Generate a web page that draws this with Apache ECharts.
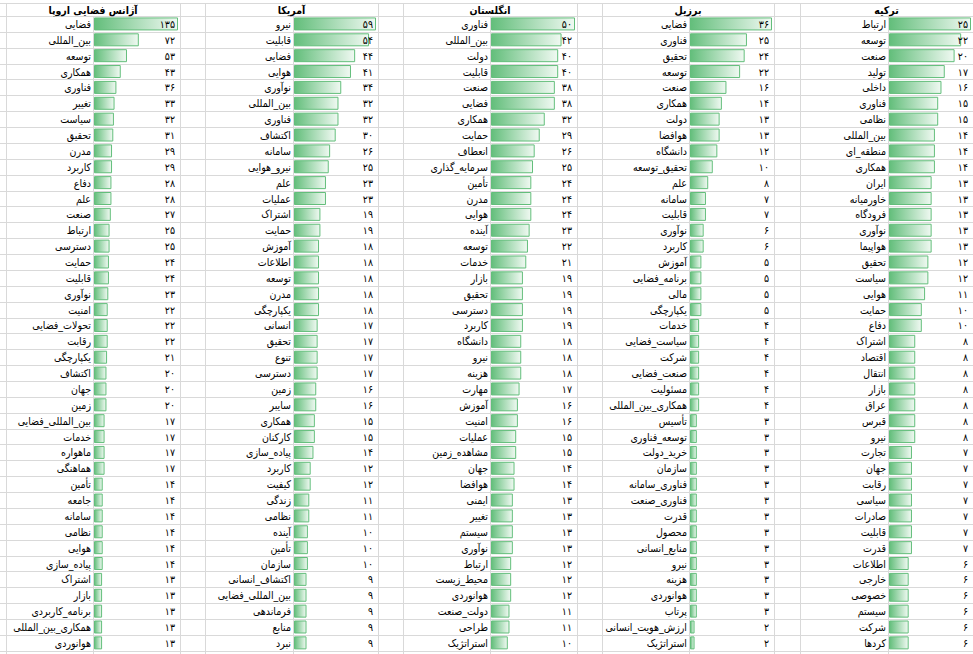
<!DOCTYPE html>
<html>
<head>
<meta charset="utf-8">
<script src="https://cdn.jsdelivr.net/npm/echarts@6/dist/echarts.min.js"></script>
<style>
  html, body { margin: 0; padding: 0; background: #fff; }
  #chart { width: 973px; height: 654px; }
</style>
</head>
<body>
<div id="chart"></div>
<script>
// panel headers, left to right
const titles = ['آژانس فضایی اروپا', 'آمریکا', 'انگلستان', 'برزیل', 'ترکیه'];

const esaTerms = ['فضایی', 'بین_المللی', 'توسعه', 'همکاری', 'فناوری', 'تغییر', 'سیاست', 'تحقیق', 'مدرن', 'کاربرد',
  'دفاع', 'علم', 'صنعت', 'ارتباط', 'دسترسی', 'حمایت', 'قابلیت', 'نوآوری', 'امنیت', 'تحولات_فضایی',
  'رقابت', 'یکپارچگی', 'اکتشاف', 'جهان', 'زمین', 'بین_المللی_فضایی', 'خدمات', 'ماهواره', 'هماهنگی', 'تأمین',
  'جامعه', 'سامانه', 'نظامی', 'هوایی', 'پیاده_سازی', 'اشتراک', 'بازار', 'برنامه_کاربردی', 'همکاری_بین_المللی', 'هوانوردی'];
const esaCounts = [135, 72, 53, 43, 36, 33, 32, 31, 29, 29, 28, 28, 27, 25, 25, 24, 24, 23, 22, 22,
  22, 21, 20, 20, 20, 17, 17, 17, 17, 14, 14, 14, 14, 14, 14, 13, 13, 13, 13, 13];

const usaTerms = ['نیرو', 'قابلیت', 'فضایی', 'هوایی', 'نوآوری', 'بین_المللی', 'فناوری', 'اکتشاف', 'سامانه', 'نیرو_هوایی',
  'علم', 'عملیات', 'اشتراک', 'حمایت', 'آموزش', 'اطلاعات', 'توسعه', 'مدرن', 'یکپارچگی', 'انسانی',
  'تحقیق', 'تنوع', 'دسترسی', 'زمین', 'سایبر', 'همکاری', 'کارکنان', 'پیاده_سازی', 'کاربرد', 'کیفیت',
  'زندگی', 'نظامی', 'آینده', 'تأمین', 'سازمان', 'اکتشاف_انسانی', 'بین_المللی_فضایی', 'فرماندهی', 'منابع', 'نبرد'];
const usaCounts = [59, 54, 44, 41, 34, 32, 32, 30, 26, 25, 23, 23, 19, 19, 18, 18, 18, 18, 18, 17,
  17, 17, 17, 16, 16, 15, 15, 14, 12, 12, 11, 11, 10, 10, 10, 9, 9, 9, 9, 9];

const ukTerms = ['فناوری', 'بین_المللی', 'دولت', 'قابلیت', 'صنعت', 'فضایی', 'همکاری', 'حمایت', 'انعطاف', 'سرمایه_گذاری',
  'تأمین', 'مدرن', 'هوایی', 'آینده', 'توسعه', 'خدمات', 'بازار', 'تحقیق', 'دسترسی', 'کاربرد',
  'دانشگاه', 'نیرو', 'هزینه', 'مهارت', 'آموزش', 'امنیت', 'عملیات', 'مشاهده_زمین', 'جهان', 'هوافضا',
  'ایمنی', 'تغییر', 'سیستم', 'نوآوری', 'ارتباط', 'محیط_زیست', 'هوانوردی', 'دولت_صنعت', 'طراحی', 'استراتژیک'];
const ukCounts = [50, 42, 40, 40, 38, 38, 32, 29, 26, 25, 24, 24, 24, 23, 22, 21, 19, 19, 19, 19,
  18, 18, 18, 17, 16, 16, 15, 15, 14, 14, 13, 13, 13, 13, 12, 12, 12, 11, 11, 10];

const brTerms = ['فضایی', 'فناوری', 'تحقیق', 'توسعه', 'صنعت', 'همکاری', 'دولت', 'هوافضا', 'دانشگاه', 'تحقیق_توسعه',
  'علم', 'سامانه', 'قابلیت', 'نوآوری', 'کاربرد', 'آموزش', 'برنامه_فضایی', 'مالی', 'یکپارچگی', 'خدمات',
  'سیاست_فضایی', 'شرکت', 'صنعت_فضایی', 'مسئولیت', 'همکاری_بین_المللی', 'تأسیس', 'توسعه_فناوری', 'خرید_دولت', 'سازمان', 'فناوری_سامانه',
  'فناوری_صنعت', 'قدرت', 'محصول', 'منابع_انسانی', 'نیرو', 'هزینه', 'هوانوردی', 'پرتاب', 'ارزش_هویت_انسانی', 'استراتژیک'];
const brCounts = [36, 25, 24, 22, 16, 14, 13, 13, 12, 10, 8, 7, 7, 6, 6, 5, 5, 5, 5, 4,
  4, 4, 4, 4, 4, 3, 3, 3, 3, 3, 3, 3, 3, 3, 3, 3, 3, 3, 2, 2];

const trTerms = ['ارتباط', 'توسعه', 'صنعت', 'تولید', 'داخلی', 'فناوری', 'نظامی', 'بین_المللی', 'منطقه_ای', 'همکاری',
  'ایران', 'خاورمیانه', 'فرودگاه', 'نوآوری', 'هواپیما', 'تحقیق', 'سیاست', 'هوایی', 'حمایت', 'دفاع',
  'اشتراک', 'اقتصاد', 'انتقال', 'بازار', 'عراق', 'قبرس', 'نیرو', 'تجارت', 'جهان', 'رقابت',
  'سیاسی', 'صادرات', 'قابلیت', 'قدرت', 'اطلاعات', 'خارجی', 'خصوصی', 'سیستم', 'شرکت', 'کردها'];
const trCounts = [25, 22, 20, 17, 16, 15, 15, 14, 14, 14, 13, 13, 13, 13, 13, 12, 12, 11, 10, 10,
  8, 8, 8, 8, 8, 8, 8, 7, 7, 7, 7, 7, 7, 7, 6, 6, 6, 6, 6, 6];

const panelTerms = [esaTerms, usaTerms, ukTerms, brTerms, trTerms];
const panelCounts = [esaCounts, usaCounts, ukCounts, brCounts, trCounts];

// sheet layout: left edge, label/bar split, right edge of each panel
const cols = [[6, 93, 180], [205, 293, 378], [403, 490, 577], [602, 689, 774], [800, 888, 973]];
const headTop = 2.5, rowTop = 16, rowH = 15.87, nRows = 40;
const W = 973, H = 654;
const font = '"DejaVu Sans Condensed", "DejaVu Sans", sans-serif';
const gridColor = '#d9d9d9';

const faDigits = v => String(v).replace(/\d/g, d => '۰۱۲۳۴۵۶۷۸۹'[d]);

const chart = echarts.init(document.getElementById('chart'), null, { renderer: 'svg' });

// sheet gridlines and panel headers
const graphics = [];
const px = v => Math.round(v) + 0.5;
const hLines = [headTop];
for (let i = 0; i <= nRows; i++) hLines.push(rowTop + i * rowH);
hLines.forEach(y => graphics.push({
  type: 'line', shape: { x1: 0, y1: px(y), x2: W, y2: px(y) },
  style: { stroke: gridColor, lineWidth: 1 }, silent: true
}));
cols.forEach(([l, m, r], k) => {
  [l, r].forEach(x => graphics.push({
    type: 'line', shape: { x1: px(x), y1: px(headTop), x2: px(x), y2: H },
    style: { stroke: gridColor, lineWidth: 1 }, silent: true
  }));
  graphics.push({
    type: 'line', shape: { x1: px(m), y1: px(rowTop), x2: px(m), y2: H },
    style: { stroke: gridColor, lineWidth: 1 }, silent: true
  });
  graphics.push({
    type: 'text', x: (l + r) / 2, y: (headTop + rowTop) / 2 + 0.5, silent: true,
    style: {
      text: titles[k], align: 'center', verticalAlign: 'middle',
      font: 'bold 10.5px ' + font, fill: '#000'
    }
  });
});

const grid = [], xAxis = [], yAxis = [], series = [];
cols.forEach(([l, m, r], k) => {
  grid.push({ left: m + 1, top: rowTop, width: r - 2 - (m + 1), height: nRows * rowH });
  xAxis.push({ gridIndex: k, type: 'value', min: 0, max: 'dataMax', show: false });
  yAxis.push({
    gridIndex: k, type: 'category', inverse: true, data: panelTerms[k],
    axisLine: { show: false }, axisTick: { show: false }, splitLine: { show: false },
    axisLabel: { interval: 0, margin: 3, fontSize: 10.5, fontFamily: font, color: '#000' }
  });
  // counts sit right-aligned in the bar cell, drawn over the bars
  yAxis.push({
    gridIndex: k, type: 'category', inverse: true, position: 'right', z: 10,
    data: panelCounts[k].map(String),
    axisLine: { show: false }, axisTick: { show: false }, splitLine: { show: false },
    axisLabel: {
      interval: 0, inside: true, margin: 3, fontSize: 10.5, fontFamily: font, color: '#000',
      formatter: v => faDigits(v)
    }
  });
  series.push({
    type: 'bar', xAxisIndex: k, yAxisIndex: 2 * k, data: panelCounts[k],
    barWidth: 13, silent: true, z: 2,
    itemStyle: {
      color: new echarts.graphic.LinearGradient(0, 0, 1, 0, [
        { offset: 0, color: '#63be7b' },
        { offset: 1, color: '#f0f9f2' }
      ]),
      borderColor: '#63be7b', borderWidth: 1
    }
  });
});

chart.setOption({
  animation: false,
  backgroundColor: '#fff',
  graphic: graphics,
  grid, xAxis, yAxis, series
});
</script>
</body>
</html>
